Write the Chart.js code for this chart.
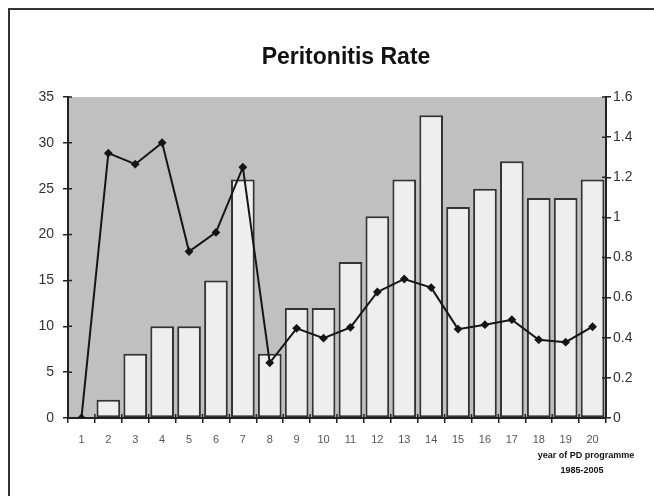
<!DOCTYPE html>
<html>
<head>
<meta charset="utf-8">
<title>Peritonitis Rate</title>
<script src="https://cdn.jsdelivr.net/npm/chart.js@4/dist/chart.umd.min.js"></script>
<style>
  html, body { margin: 0; padding: 0; background: #ffffff; }
  #wrap { width: 654px; height: 496px; position: relative; }
</style>
</head>
<body>
<div id="wrap"><canvas id="chart" width="654" height="496"></canvas></div>
<script>
// Programme years 1..20 (1985-2005)
const years = ['1','2','3','4','5','6','7','8','9','10','11','12','13','14','15','16','17','18','19','20'];
// Number of peritonitis episodes per year (left axis)
const episodes = [0, 2, 7, 10, 10, 15, 26, 7, 12, 12, 17, 22, 26, 33, 23, 25, 28, 24, 24, 26];
// Peritonitis rate per year (right axis)
const rate = [0, 1.32, 1.265, 1.372, 0.83, 0.925, 1.25, 0.275, 0.447, 0.398, 0.452, 0.628, 0.693, 0.65, 0.443, 0.465, 0.49, 0.39, 0.378, 0.455];
// Axis ranges and tick steps
const leftTicks = { min: 0, max: 35, step: 5 };
const rightTicks = { min: 0, max: 1.6, step: 0.2 };
const titleText = 'Peritonitis Rate';
const footnote = ['year of PD programme', '1985-2005'];

const FONT = '"Liberation Sans", Arial, Helvetica, sans-serif';

// Grey plot background, frame lines, title, inner tick marks and footnote
const decorations = {
  id: 'decorations',
  beforeDraw(chart) {
    const { ctx, chartArea: a } = chart;
    ctx.save();
    ctx.fillStyle = '#ffffff';
    ctx.fillRect(0, 0, chart.width, chart.height);
    ctx.fillStyle = '#c0c0c0';
    ctx.fillRect(a.left, a.top, a.right - a.left, a.bottom - a.top);
    // page frame (top and left edges)
    ctx.strokeStyle = '#333333';
    ctx.lineWidth = 2;
    ctx.beginPath();
    ctx.moveTo(9, chart.height);
    ctx.lineTo(9, 9);
    ctx.lineTo(chart.width, 9);
    ctx.stroke();
    // title
    ctx.fillStyle = '#111111';
    ctx.font = 'bold 23px ' + FONT;
    ctx.textAlign = 'center';
    ctx.textBaseline = 'alphabetic';
    ctx.fillText(titleText, (a.left + a.right) / 2 + 9, 64);
    ctx.restore();
  },
  afterDatasetsDraw(chart) {
    const { ctx, chartArea: a, scales } = chart;
    ctx.save();
    ctx.strokeStyle = '#222222';
    ctx.lineWidth = 1.5;
    ctx.beginPath();
    // tick marks crossing into the plot area
    scales.y.ticks.forEach((t, i) => {
      const p = scales.y.getPixelForTick(i);
      ctx.moveTo(a.left, p); ctx.lineTo(a.left + 4, p);
    });
    scales.y1.ticks.forEach((t, i) => {
      const p = scales.y1.getPixelForTick(i);
      ctx.moveTo(a.right, p); ctx.lineTo(a.right - 4, p);
    });
    const n = years.length;
    for (let i = 0; i <= n; i++) {
      const p = a.left + (a.right - a.left) * i / n;
      ctx.moveTo(p, a.bottom); ctx.lineTo(p, a.bottom - 4);
    }
    ctx.stroke();
    ctx.restore();
  },
  afterDraw(chart) {
    const { ctx, chartArea: a } = chart;
    ctx.save();
    ctx.fillStyle = '#111111';
    ctx.font = 'bold 9px ' + FONT;
    ctx.textAlign = 'center';
    ctx.textBaseline = 'middle';
    ctx.fillText(footnote[0], a.right - 20, a.bottom + 38);
    ctx.fillText(footnote[1], a.right - 24, a.bottom + 53);
    ctx.restore();
  }
};

new Chart(document.getElementById('chart'), {
  data: {
    labels: years,
    datasets: [
      {
        type: 'line',
        label: 'Rate',
        data: rate,
        yAxisID: 'y1',
        borderColor: '#151515',
        backgroundColor: '#151515',
        borderWidth: 2,
        pointStyle: 'rectRot',
        pointRadius: 3,
        pointHoverRadius: 3,
        tension: 0,
        order: 0
      },
      {
        type: 'bar',
        label: 'Episodes',
        data: episodes,
        yAxisID: 'y',
        backgroundColor: '#eeeeee',
        borderColor: '#333333',
        borderWidth: 2,
        borderSkipped: false,
        categoryPercentage: 1.0,
        barPercentage: 0.88,
        order: 1
      }
    ]
  },
  options: {
    responsive: false,
    animation: false,
    events: [],
    layout: { padding: { left: 10, right: 0, top: 97, bottom: 0 } },
    plugins: {
      legend: { display: false },
      title: { display: false },
      tooltip: { enabled: false }
    },
    scales: {
      x: {
        offset: true,
        grid: { offset: true, drawOnChartArea: false, drawTicks: true, tickLength: 5, color: '#222222', lineWidth: 1.5 },
        border: { display: true, color: '#222222', width: 2 },
        ticks: { color: '#555555', font: { family: FONT, size: 11 }, padding: 10, maxRotation: 0, autoSkip: false },
        afterFit(s) { s.height = 78; }
      },
      y: {
        position: 'left',
        min: leftTicks.min,
        max: leftTicks.max,
        grid: { drawOnChartArea: false, drawTicks: true, tickLength: 5, color: '#222222', lineWidth: 1.5 },
        border: { display: true, color: '#222222', width: 2 },
        ticks: { stepSize: leftTicks.step, color: '#333333', font: { family: FONT, size: 14 }, padding: 9 },
        afterFit(s) { s.width = 58; }
      },
      y1: {
        position: 'right',
        min: rightTicks.min,
        max: rightTicks.max,
        grid: { drawOnChartArea: false, drawTicks: true, tickLength: 5, color: '#222222', lineWidth: 1.5 },
        border: { display: true, color: '#222222', width: 2 },
        ticks: {
          stepSize: rightTicks.step,
          color: '#333333',
          font: { family: FONT, size: 14 },
          padding: 2,
          callback: (v) => String(Math.round(v * 10) / 10)
        },
        afterFit(s) { s.width = 48; }
      }
    }
  },
  plugins: [decorations]
});
</script>
</body>
</html>
